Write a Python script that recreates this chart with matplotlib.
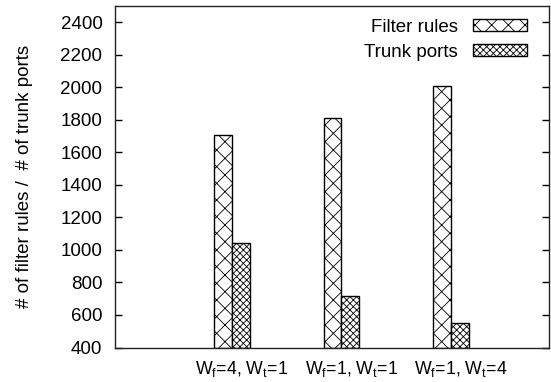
import numpy as np
import matplotlib
matplotlib.use("Agg")
import matplotlib.pyplot as plt

plt.rcParams["font.family"] = ["Liberation Sans", "DejaVu Sans"]
plt.rcParams["mathtext.fontset"] = "custom"
plt.rcParams["mathtext.rm"] = "Liberation Sans"
plt.rcParams["mathtext.it"] = "Liberation Sans"
plt.rcParams["hatch.linewidth"] = 0.6

# data
configs = [r"W$_\mathrm{f}$=4, W$_\mathrm{t}$=1",
           r"W$_\mathrm{f}$=1, W$_\mathrm{t}$=1",
           r"W$_\mathrm{f}$=1, W$_\mathrm{t}$=4"]
filter_rules = [1710, 1810, 2010]
trunk_ports = [1045, 715, 550]
yticks = list(range(400, 2401, 200))

FS = 13.5

fig = plt.figure(figsize=(5.51, 3.82), dpi=100)
ax = fig.add_axes([0.2087, 0.0903, 0.7877, 0.8937])

x = np.arange(len(configs))
w = 0.164
ax.bar(x, np.array(filter_rules) - 400, width=-w, bottom=400, align="edge",
       facecolor="white", edgecolor="black", hatch="xx", linewidth=1.0,
       label="Filter rules")
ax.bar(x, np.array(trunk_ports) - 400, width=w, bottom=400, align="edge",
       facecolor="white", edgecolor="black", hatch="xxxxx", linewidth=1.0,
       label="Trunk ports")

ax.set_xlim(-1.068, 2.895)
ax.set_ylim(400, 2500)
ax.set_yticks(yticks)
ax.set_xticks(x + 0.09)
ax.set_xticklabels(configs, fontsize=12.8)
ax.tick_params(axis="x", length=0, pad=8)
ax.tick_params(axis="y", direction="in", length=5, width=1, right=True,
               labelsize=FS, pad=9)
ax.set_ylabel("# of filter rules /  # of trunk ports", fontsize=FS, labelpad=20)
for s in ax.spines.values():
    s.set_linewidth(1.0)
    s.set_color("#222222")

ax.legend(loc="upper right", bbox_to_anchor=(0.967, 0.985), frameon=False,
          markerfirst=False, fontsize=FS, handlelength=2.9, handleheight=0.64,
          borderaxespad=0, labelspacing=0.42, handletextpad=0.8)

fig.savefig("out.png", dpi=100)
